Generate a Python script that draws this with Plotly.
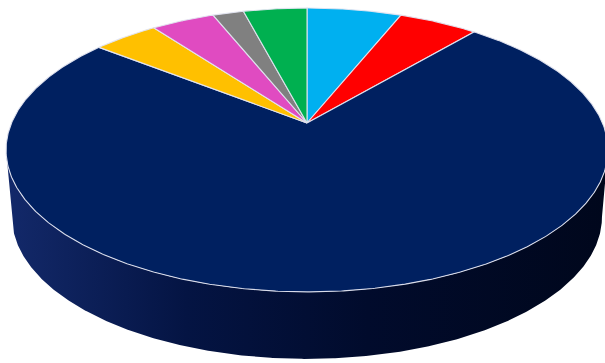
import numpy as np
import plotly.graph_objects as go

# ---- data (share of the pie in %) ----
labels = ["Blue", "Red", "Dark blue", "Orange", "Pink", "Grey", "Green"]
values = [6.1, 5.1, 74.4, 4.2, 4.1, 2.0, 4.1]
colors = ["#00B0F0", "#FF0000", "#002060", "#FFC000", "#E04BC1", "#808080", "#00B050"]

# ---- 3D pie projection parameters (style/layout) ----
W, H = 605, 363
cx, cy = 307.0, 123.0     # projected pie centre (pixels)
A, B, p = 295.5, 136.8, 0.19   # horizontal / vertical radius, perspective
depth, shrink = 67.0, 0.98     # side height and bottom-rim shrink


def rim(phi_deg):
    ph = np.radians(phi_deg)
    u, v = np.sin(ph), np.cos(ph)
    w = 1 + p * v
    return cx + A * u / w, cy - B * v / w


def bottom(phi_deg):
    x, y = rim(phi_deg)
    return cx + (x - cx) * shrink, y + depth


total = sum(values)
angles = np.concatenate([[0], np.cumsum(values) / total * 360.0])

fig = go.Figure()

# side walls (only the front, visible arc)
phiR = np.degrees(np.arccos(-p))
phiL = 360 - phiR
for i, (lab, col) in enumerate(zip(labels, colors)):
    a, b = angles[i], angles[i + 1]
    lo, hi = max(a, phiR), min(b, phiL)
    if hi <= lo:
        continue
    t = np.linspace(lo, hi, max(int((hi - lo) * 3), 20))
    xt, yt = rim(t)
    xb, yb = bottom(t[::-1])
    xs = np.concatenate([xt, xb, [xt[0]]])
    ys = np.concatenate([yt, yb, [yt[0]]])
    fig.add_trace(go.Scatter(
        x=xs, y=ys, mode="lines", fill="toself",
        line=dict(width=0, color="rgba(0,0,0,0)"),
        fillgradient=dict(type="horizontal",
                          colorscale=[[0, "#13296a"], [0.3, "#041443"],
                                      [0.6, "#010b2c"], [1, "#00071c"]]),
        hoverinfo="skip", showlegend=False))

# top face slices
for i, (lab, col) in enumerate(zip(labels, colors)):
    a, b = angles[i], angles[i + 1]
    t = np.linspace(a, b, max(int((b - a) * 3), 10))
    xr, yr = rim(t)
    xs = np.concatenate([[cx], xr, [cx]])
    ys = np.concatenate([[cy], yr, [cy]])
    fig.add_trace(go.Scatter(
        x=xs, y=ys, mode="lines", fill="toself", fillcolor=col,
        line=dict(width=1.1, color="rgba(225,228,240,0.95)"),
        name=lab, text=f"{lab}: {values[i]}%", hoverinfo="text",
        showlegend=False))

fig.update_layout(
    width=W, height=H,
    margin=dict(l=0, r=0, t=0, b=0),
    paper_bgcolor="white", plot_bgcolor="white",
    xaxis=dict(range=[0, W], visible=False, fixedrange=True),
    yaxis=dict(range=[H, 0], visible=False, fixedrange=True),
)

fig.write_html(
    "out.html",
    config={"displayModeBar": False},
    post_script="document.body.style.margin='0';document.body.style.overflow='hidden';",
)
